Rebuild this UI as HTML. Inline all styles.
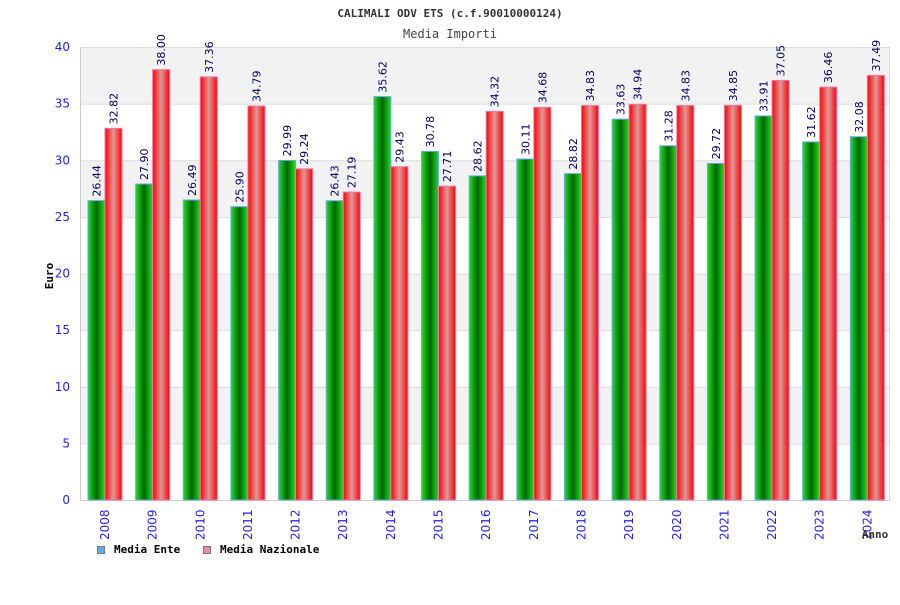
<!DOCTYPE html>
<html><head><meta charset="utf-8"><style>
body{margin:0;background:#fff;}
svg text{font-family:"DejaVu Sans Mono","Liberation Mono",monospace;}
svg text.s{font-family:"DejaVu Sans","Liberation Sans",sans-serif;}
</style></head><body>
<svg width="900" height="600" xmlns="http://www.w3.org/2000/svg">
<defs>
<linearGradient id="gG" x1="0" x2="1" y1="0" y2="0"><stop offset="0" stop-color="#22dd22"/><stop offset="0.5" stop-color="#006600"/><stop offset="1" stop-color="#22dd22"/></linearGradient>
<linearGradient id="gR" x1="0" x2="1" y1="0" y2="0"><stop offset="0" stop-color="#ff0000"/><stop offset="0.5" stop-color="#dd9999"/><stop offset="1" stop-color="#ff0000"/></linearGradient>
</defs>
<text x="450" y="17" text-anchor="middle" font-size="11" font-weight="bold" fill="#333">CALIMALI ODV ETS (c.f.90010000124)</text>
<text x="450" y="38" text-anchor="middle" font-size="12" fill="#444">Media Importi</text>
<g id="grid"></g>
<g id="bars"></g>
<text transform="translate(53,276) rotate(-90)" text-anchor="middle" font-size="11" font-weight="bold" fill="#000">Euro</text>
<text x="875" y="538" text-anchor="middle" font-size="11" font-weight="bold" fill="#333">Anno</text>
<g>
<rect x="97.5" y="546.5" width="7" height="7" fill="#66aaee" stroke="#777"/>
<text x="114" y="553" font-size="11" font-weight="bold" fill="#000">Media Ente</text>
<rect x="203.5" y="546.5" width="7" height="7" fill="#ee88bb" stroke="#777"/>
<text x="220" y="553" font-size="11" font-weight="bold" fill="#000">Media Nazionale</text>
</g>
</svg>
<script>
const years=["2008","2009","2010","2011","2012","2013","2014","2015","2016","2017","2018","2019","2020","2021","2022","2023","2024"];
const ente=[26.44,27.90,26.49,25.90,29.99,26.43,35.62,30.78,28.62,30.11,28.82,33.63,31.28,29.72,33.91,31.62,32.08];
const nazionale=[32.82,38.00,37.36,34.79,29.24,27.19,29.43,27.71,34.32,34.68,34.83,34.94,34.83,34.85,37.05,36.46,37.49];
const yTicks=[0,5,10,15,20,25,30,35,40];
const NS="http://www.w3.org/2000/svg";
const L=80,R=890,T=47,B=500,yMax=40;
const y=v=>B-(v/yMax)*(B-T);
const slot=(R-L)/years.length;
const x=i=>L+i*slot;
function mk(tag,attrs,parent,txt){const e=document.createElementNS(NS,tag);for(const k in attrs)e.setAttribute(k,attrs[k]);if(txt!==undefined)e.textContent=txt;parent.appendChild(e);return e;}
const grid=document.getElementById('grid');
for(let k=0;k<yTicks.length-1;k++){
  if((yTicks.length-2-k)%2===0){const r=mk('rect',{x:L,y:y(yTicks[k+1]),width:R-L,height:y(yTicks[k])-y(yTicks[k+1]),fill:'#f2f2f2'},grid);
  
  }
}
yTicks.forEach(t=>{
  const l=mk('line',{x1:L,x2:R,y1:y(t)+0.5,y2:y(t)+0.5,stroke:'#dddddd'},grid);
  
  
  const tx=mk('text',{x:L-10,y:y(t)+4,'text-anchor':'end','font-size':12,fill:'#2222ee',class:'s'},grid,t);
  
  
});
mk('line',{x1:L+0.5,x2:L+0.5,y1:T,y2:B,stroke:'#cccccc'},grid);
mk('line',{x1:L,x2:R,y1:T+0.5,y2:T+0.5,stroke:'#dddddd'},grid);
mk('line',{x1:R-0.5,x2:R-0.5,y1:T,y2:B,stroke:'#dddddd'},grid);
mk('line',{x1:L,x2:R,y1:B+0.5,y2:B+0.5,stroke:'#cccccc'},grid);
const bars=document.getElementById('bars');
const bw=17;
years.forEach((yr,i)=>{
  const gx=x(i)+8;
  const vals=[ente[i],nazionale[i]];
  vals.forEach((v,j)=>{
    const bx=gx+j*bw;
    const r=mk('rect',{x:bx,y:y(v),width:bw,height:B-y(v),fill:j?'url(#gR)':'url(#gG)',stroke:j?'#ee77aa':'#66aaee','stroke-width':1},bars);
    
    
    const cx=bx+bw/2+4;
    const t=mk('text',{transform:`translate(${cx},${y(v)-4}) rotate(-90)`,'font-size':11,fill:'#000066',class:'s'},bars,v.toFixed(2));
    
    
  });
  const lx=gx+bw+4;
  const t=mk('text',{transform:`translate(${lx},${540}) rotate(-90)`,'font-size':12,fill:'#2222ee',class:'s'},bars,yr);
  
  
});
</script>
</body></html>
